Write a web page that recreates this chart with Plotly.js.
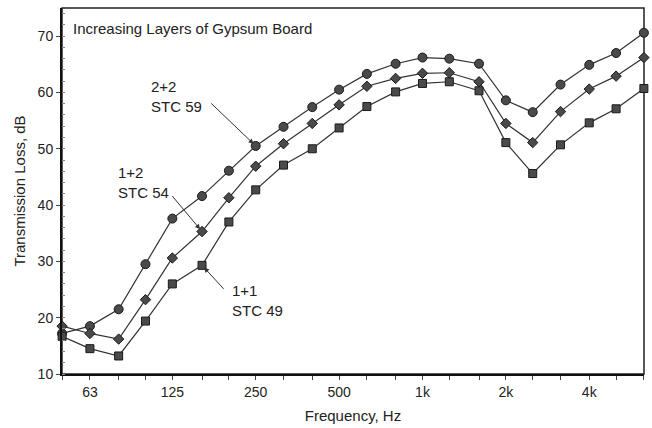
<!DOCTYPE html>
<html>
<head>
<meta charset="utf-8">
<script src="https://cdn.plot.ly/plotly-3.0.1.min.js"></script>
<style>html,body{margin:0;padding:0;background:#fff;}#chart{width:652px;height:428px;}</style>
</head>
<body>
<div id="chart"></div>
<script>
// Third-octave band centre frequencies (Hz)
const freqs = [50, 63, 80, 100, 125, 160, 200, 250, 315, 400, 500, 630, 800, 1000, 1250, 1600, 2000, 2500, 3150, 4000, 5000, 6300];
// Transmission loss (dB) for each wall build-up
const tl22 = [17.2, 18.5, 21.5, 29.5, 37.6, 41.6, 46.1, 50.5, 53.9, 57.4, 60.5, 63.3, 65.1, 66.2, 66.0, 65.1, 58.6, 56.5, 61.4, 64.9, 67.0, 70.6];
const tl12 = [18.5, 17.2, 16.2, 23.2, 30.6, 35.3, 41.3, 46.9, 50.9, 54.5, 57.8, 61.1, 62.5, 63.4, 63.5, 61.9, 54.5, 51.1, 56.6, 60.6, 62.9, 66.2];
const tl11 = [16.7, 14.5, 13.2, 19.4, 26.0, 29.3, 37.0, 42.7, 47.1, 50.0, 53.7, 57.5, 60.1, 61.6, 61.9, 60.3, 51.1, 45.6, 50.7, 54.6, 57.1, 60.7];
// Labelled frequency ticks
const labelFreqs = [63, 125, 250, 500, 1000, 2000, 4000];
const labelText = ['63', '125', '250', '500', '1k', '2k', '4k'];
// Series labels
const seriesNames = ['2+2<br>STC 59', '1+2<br>STC 54', '1+1<br>STC 49'];
const chartNote = 'Increasing Layers of Gypsum Board';

const FONT = '"Liberation Sans", Arial, Helvetica, sans-serif';
const INK = '#222';

function series(y, symbol, size) {
  return {
    x: freqs, y: y, type: 'scatter', mode: 'lines+markers',
    cliponaxis: false,
    line: {color: '#333', width: 1.2},
    marker: {symbol: symbol, size: size, color: '#4a4a4a', line: {color: '#1a1a1a', width: 1}},
    showlegend: false, hoverinfo: 'x+y'
  };
}

const traces = [
  series(tl22, 'circle', 9),
  series(tl12, 'diamond', 8),
  series(tl11, 'square', 8)
];

const tickText = freqs.map(f => {
  const i = labelFreqs.indexOf(f);
  return i >= 0 ? labelText[i] : '';
});
const xr = [Math.log10(freqs[0]) - 0.0004, Math.log10(freqs[freqs.length - 1]) + 0.0004];

function arrow(xv, yv, ax, ay) {
  return {
    x: Math.log10(xv), y: yv, xref: 'x', yref: 'y', text: '',
    showarrow: true, arrowhead: 2, arrowsize: 1, arrowwidth: 1, arrowcolor: '#333',
    ax: ax, ay: ay, axref: 'pixel', ayref: 'pixel', standoff: 3
  };
}
function label(txt, px, py) {
  return {
    text: txt, xref: 'paper', yref: 'paper', x: px, y: py,
    xanchor: 'left', yanchor: 'middle', align: 'left', showarrow: false,
    font: {family: FONT, size: 15, color: INK}
  };
}

const layout = {
  width: 652, height: 428,
  margin: {l: 62, r: 8, t: 8, b: 54},
  paper_bgcolor: '#fff', plot_bgcolor: '#fff',
  font: {family: FONT, size: 14, color: INK},
  xaxis: {
    type: 'log', range: xr,
    tickmode: 'array', tickvals: freqs, ticktext: tickText,
    ticks: 'outside', ticklen: 4, tickwidth: 1, tickcolor: '#444',
    tickfont: {family: FONT, size: 14, color: INK},
    showgrid: false, zeroline: false,
    showline: true, linecolor: '#111', linewidth: 2,
    title: {text: 'Frequency, Hz', font: {family: FONT, size: 15, color: INK}, standoff: 12}
  },
  xaxis2: {
    type: 'log', range: xr, overlaying: 'x', anchor: 'y', side: 'bottom',
    tickmode: 'array', tickvals: freqs, showticklabels: false,
    ticks: 'inside', ticklen: 4, tickwidth: 1, tickcolor: '#444',
    showgrid: false, zeroline: false, showline: false
  },
  yaxis: {
    range: [10, 75], tickmode: 'linear', tick0: 10, dtick: 10,
    ticks: 'outside', ticklen: 4, tickwidth: 1, tickcolor: '#444',
    minor: {dtick: 2, tick0: 10, ticks: 'inside', ticklen: 3, tickcolor: '#888', tickwidth: 1},
    tickfont: {family: FONT, size: 14, color: INK},
    showgrid: false, zeroline: false,
    showline: true, linecolor: '#111', linewidth: 2,
    title: {text: 'Transmission Loss, dB', font: {family: FONT, size: 15, color: INK}, standoff: 8}
  },
  yaxis2: {
    range: [10, 75], overlaying: 'y', anchor: 'x', side: 'left',
    tickmode: 'linear', tick0: 10, dtick: 10, showticklabels: false,
    ticks: 'inside', ticklen: 4, tickwidth: 1, tickcolor: '#444',
    showgrid: false, zeroline: false, showline: false
  },
  shapes: [{
    type: 'rect', xref: 'paper', yref: 'paper', x0: 0, x1: 1, y0: 0, y1: 1,
    line: {color: '#222', width: 1.5}, fillcolor: 'rgba(0,0,0,0)', layer: 'below'
  }],
  annotations: [
    label(chartNote, 0.0155, 0.944),
    label(seriesNames[0], 0.1495, 0.758),
    label(seriesNames[1], 0.0928, 0.522),
    label(seriesNames[2], 0.2887, 0.202),
    arrow(freqs[7], tl22[7], -46, -44),
    arrow(freqs[5], tl12[5], -31, -37),
    arrow(freqs[5], tl11[5], 23, 25)
  ]
};

Plotly.newPlot('chart', traces, layout, {staticPlot: true, displayModeBar: false});
</script>
</body>
</html>
